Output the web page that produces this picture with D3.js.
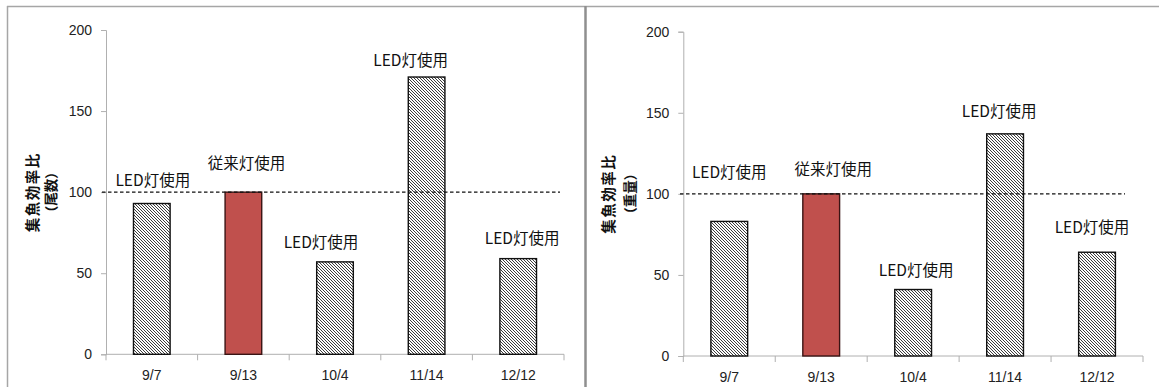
<!DOCTYPE html>
<html lang="ja">
<head>
<meta charset="utf-8">
<script src="https://cdn.jsdelivr.net/npm/d3@7"></script>
<style>
  html, body { margin: 0; padding: 0; background: #fff; }
  svg { display: block; }
  .tick-num { font-family: "Liberation Sans", Arial, sans-serif; font-size: 14px; fill: #222; }
  .jp { font-family: "Noto Sans CJK JP", sans-serif; fill: #111; }
</style>
</head>
<body>
<svg id="chart" width="1159" height="387"></svg>
<script>
// Survey dates
const dates = ["9/7", "9/13", "10/4", "11/14", "12/12"];
// Lamp used on each date
const lampType = ["LED", "従来", "LED", "LED", "LED"];
const lampLabels = ["LED灯使用", "従来灯使用", "LED灯使用", "LED灯使用", "LED灯使用"];
// Fishing-efficiency ratio (conventional lamp = 100)
const ratioCount = [93, 100, 57, 171, 59];   // by number of fish
const ratioWeight = [83, 100, 41, 137, 64];  // by weight
const baseline = 100;
const yTicks = [0, 50, 100, 150, 200];
const yTitles = [["集魚効率比", "（尾数）"], ["集魚効率比", "（重量）"]];

// Layout of the two panels (pixels)
const panels = [
  { values: ratioCount, titles: yTitles[0], x0: 106, x1: 564, yTop: 30, yBot: 354.3,
    dashFrom: 102, dashTo: 560, titleX: [33, 51],
    labelShift: [[1, 23], [3, 29], [-14, 19], [-16, 16], [4, 20]] },
  { values: ratioWeight, titles: yTitles[1], x0: 683.3, x1: 1143, yTop: 31.7, yBot: 356,
    dashFrom: 680, dashTo: 1125, titleX: [609, 630],
    labelShift: [[0, 48.7], [12, 23.8], [3, 19], [-6, 22.6], [-5, 24.3]] }
];

const svg = d3.select("#chart");

// Fine pixel diagonal hatch for LED bars
const defs = svg.append("defs");
const pat = defs.append("pattern")
  .attr("id", "hatch").attr("patternUnits", "userSpaceOnUse")
  .attr("width", 3).attr("height", 3);
pat.append("rect").attr("width", 3).attr("height", 3).attr("fill", "#fcfcfc");
pat.selectAll("rect.px").data([0, 1, 2]).join("rect").attr("class", "px")
  .attr("x", d => d).attr("y", d => d).attr("width", 1).attr("height", 1)
  .attr("fill", "#3c3c3c").attr("shape-rendering", "crispEdges");

// Outer frames
const frame = svg.append("g").attr("stroke", "#a6a6a6").attr("fill", "none");
frame.append("line").attr("x1", 7.5).attr("x2", 7.5).attr("y1", 6).attr("y2", 387).attr("stroke-width", 1.5);
frame.append("line").attr("x1", 7).attr("x2", 1159).attr("y1", 6.5).attr("y2", 6.5).attr("stroke-width", 1.5);
frame.append("line").attr("x1", 585.5).attr("x2", 585.5).attr("y1", 6).attr("y2", 387)
  .attr("stroke", "#8f8f8f").attr("stroke-width", 2.5);

panels.forEach(p => {
  const g = svg.append("g");
  const x = d3.scaleBand().domain(dates).range([p.x0, p.x1]).paddingInner(0.6).paddingOuter(0.3);
  const xb = d3.scaleBand().domain(dates).range([p.x0, p.x1]);
  const y = d3.scaleLinear().domain([0, 200]).range([p.yBot, p.yTop]);

  // Y axis
  const yAx = g.append("g").attr("transform", `translate(${p.x0},0)`)
    .call(d3.axisLeft(y).tickValues(yTicks).tickSize(5).tickPadding(9));
  yAx.select(".domain").attr("stroke", "#b0b0b0");
  yAx.selectAll(".tick line").attr("stroke", "#b0b0b0");
  yAx.selectAll(".tick text").attr("class", "tick-num");

  // X axis with ticks at category boundaries
  const xAx = g.append("g").attr("transform", `translate(0,${p.yBot})`);
  xAx.append("line").attr("x1", p.x0).attr("x2", p.x1).attr("stroke", "#b0b0b0");
  const bounds = dates.map(d => xb(d)).concat([p.x1]);
  xAx.selectAll("line.tk").data(bounds).join("line").attr("class", "tk")
    .attr("x1", d => d).attr("x2", d => d).attr("y1", 0).attr("y2", 6).attr("stroke", "#b0b0b0");
  xAx.selectAll("text").data(dates).join("text")
    .attr("class", "tick-num")
    .attr("x", d => xb(d) + xb.bandwidth() / 2)
    .attr("y", 21).attr("dy", "0.35em").attr("text-anchor", "middle")
    .text(d => d);

  // Bars
  g.selectAll("rect.bar").data(dates).join("rect").attr("class", "bar")
    .attr("x", d => x(d))
    .attr("width", x.bandwidth())
    .attr("y", (d, i) => y(p.values[i]))
    .attr("height", (d, i) => y(0) - y(p.values[i]))
    .attr("fill", (d, i) => lampType[i] === "LED" ? "url(#hatch)" : "#c0504d")
    .attr("stroke", (d, i) => lampType[i] === "LED" ? "#111" : "#3a1414")
    .attr("stroke-width", 1.4);

  // Reference line at 100
  g.append("line")
    .attr("x1", p.dashFrom).attr("x2", p.dashTo)
    .attr("y1", y(baseline)).attr("y2", y(baseline))
    .attr("stroke", "#111").attr("stroke-width", 1.2).attr("stroke-dasharray", "3.5,2.5");

  // Lamp annotations
  g.selectAll("text.ann").data(dates).join("text").attr("class", "ann jp")
    .attr("x", (d, i) => xb(d) + xb.bandwidth() / 2 + p.labelShift[i][0])
    .attr("y", (d, i) => y(p.values[i]) - p.labelShift[i][1])
    .attr("dy", "0.35em").attr("text-anchor", "middle")
    .style("font-size", "15.5px")
    .text((d, i) => lampLabels[i]);

  // Y axis title (two rotated lines)
  const yMid = (p.yTop + p.yBot) / 2;
  p.titles.forEach((t, k) => {
    g.append("text").attr("class", "jp")
      .attr("transform", `translate(${p.titleX[k]},${yMid}) rotate(-90)`)
      .attr("text-anchor", "middle").attr("dy", "0.35em")
      .style("font-size", k === 0 ? "14.5px" : "13.5px").style("font-weight", "bold")
      .style("letter-spacing", k === 0 ? "1.5px" : "0px")
      .text(t);
  });
});
</script>
</body>
</html>
